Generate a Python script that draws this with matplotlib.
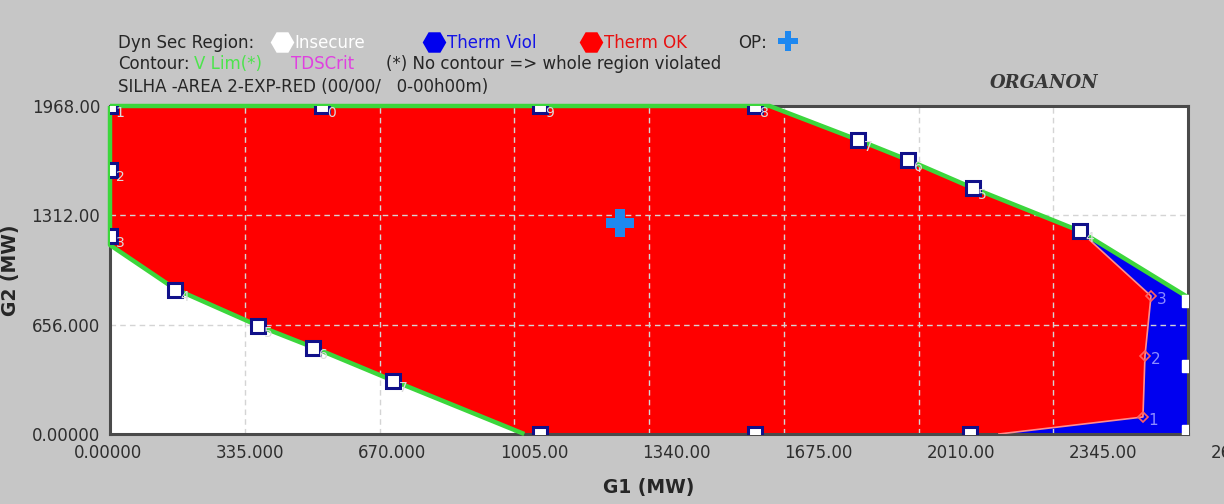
import matplotlib
matplotlib.use("Agg")
import matplotlib.pyplot as plt
from matplotlib.lines import Line2D
from matplotlib.transforms import ScaledTranslation

# ---- data (MW) ----
x_ticks = [0, 335, 670, 1005, 1340, 1675, 2010, 2345, 2680]
y_ticks = [0, 656, 1312, 1968]
x_tick_labels = ["0.00000", "335.000", "670.000", "1005.00", "1340.00",
                 "1675.00", "2010.00", "2345.00", "2680.00"]
y_tick_labels = ["0.00000", "656.000", "1312.00", "1968.00"]

# voltage-limit contour, lower-left part (from left edge down to G2 = 0)
vlim_low_g1 = [0, 162, 368, 505, 704, 1030]
vlim_low_g2 = [1134, 870, 650, 520, 320, 0]
# voltage-limit contour, upper-right part (from G2 max down to G1 max)
vlim_up_g1 = [1640, 1860, 1984, 2145, 2411, 2680]
vlim_up_g2 = [1968, 1764, 1644, 1476, 1218, 820]

# thermal-limit boundary (TDSCrit), from contour down to G2 = 0
therm_g1 = [2411, 2588, 2573, 2568, 2210]
therm_g2 = [1218, 828, 468, 102, 0]
therm_ids = ["", "3", "2", "1", ""]

# simulated boundary points
pts_g1 = [0, 527, 1069, 1603, 0, 0, 162, 368, 505, 704,
          1860, 1984, 2145, 2411, 1069, 1603, 2138]
pts_g2 = [1968, 1968, 1968, 1968, 1584, 1188, 864, 648, 516, 318,
          1764, 1644, 1476, 1218, 0, 0, 0]
pts_ids = ["1", "0", "9", "8", "2", "3", "4", "5", "6", "7",
           "7", "6", "5", "4", "", "", ""]
edge_g1 = [2680, 2680, 2680]
edge_g2 = [798, 408, 18]

# operating point
op_g1, op_g2 = 1268, 1268

G1_MAX, G2_MAX = 2680, 1968

# ---- styling ----
BG = "#c6c6c6"
RED = "#ff0000"
BLUE = "#0000f0"
GREEN = "#3cd63c"
NAVY = "#10108a"
PINK = "#ff8c8c"
TXT = "#262626"
FONT = ["DejaVu Sans"]
plt.rcParams["font.family"] = FONT

fig = plt.figure(figsize=(12.24, 5.04), dpi=100, facecolor=BG)
ax = fig.add_axes([110 / 1224, 1 - 434 / 504, 1078 / 1224, 328 / 504])
ax.set_facecolor("white")
ax.set_xlim(0, G1_MAX)
ax.set_ylim(0, G2_MAX)

# regions
red_x = [0, *vlim_up_g1[:-1], *therm_g1, *vlim_low_g1[::-1]]
red_y = [G2_MAX, *vlim_up_g2[:-1], *therm_g2, *vlim_low_g2[::-1]]
ax.fill(red_x, red_y, color=RED, lw=0, zorder=1)

blue_x = [vlim_up_g1[-2], vlim_up_g1[-1], G1_MAX, *therm_g1[::-1][:-1]]
blue_y = [vlim_up_g2[-2], vlim_up_g2[-1], 0, *therm_g2[::-1][:-1]]
ax.fill(blue_x, blue_y, color=BLUE, lw=0, zorder=1)

# grid
ax.set_axisbelow(False)
ax.grid(True, color="#d4d4d4", linestyle=(0, (4, 3)), linewidth=1.0)

# contours
ax.plot([0, 0, *vlim_low_g1], [G2_MAX, vlim_low_g2[0], *vlim_low_g2],
        color=GREEN, lw=3.2, solid_capstyle="butt", zorder=3, clip_on=False)
ax.plot([0, *vlim_up_g1], [G2_MAX, *vlim_up_g2],
        color=GREEN, lw=3.2, solid_capstyle="butt", zorder=3, clip_on=False)
ax.plot(therm_g1, therm_g2, color=PINK, lw=1.2, zorder=3)
ax.plot(therm_g1[1:4], therm_g2[1:4], linestyle="none", marker="D",
        markersize=5, markerfacecolor="none", markeredgecolor="#ff6060",
        markeredgewidth=1.2, zorder=4)
for gx, gy, s in zip(therm_g1, therm_g2, therm_ids):
    if s:
        ax.annotate(s, (gx, gy), xytext=(4, -6), textcoords="offset points",
                    fontsize=11, color="#8c8cff", zorder=5)

# boundary points
ax.plot(pts_g1, pts_g2, linestyle="none", marker="s", markersize=10,
        markerfacecolor="white", markeredgecolor=NAVY, markeredgewidth=2.2,
        zorder=5)
ax.plot(edge_g1, edge_g2, linestyle="none", marker="s", markersize=9,
        markerfacecolor="white", markeredgecolor="white", zorder=5)
for gx, gy, s in zip(pts_g1, pts_g2, pts_ids):
    if s:
        ax.annotate(s, (gx, gy), xytext=(4, -8), textcoords="offset points",
                    fontsize=10, color="#dcdcdc", zorder=6)

# operating point
ax.plot([op_g1], [op_g2], linestyle="none", marker="P", markersize=20,
        color="#1e88f0", markeredgewidth=0, zorder=6)

# axes cosmetics
for sp in ax.spines.values():
    sp.set_color("#4a4a4a")
    sp.set_linewidth(2.2)
    sp.set_zorder(2.8)
ax.set_xticks(x_ticks)
ax.set_xticklabels(x_tick_labels)
ax.set_yticks(y_ticks)
ax.set_yticklabels(y_tick_labels)
ax.tick_params(length=0, labelsize=12, labelcolor="#2e2e2e")
ax.tick_params(axis="x", pad=7)
ax.tick_params(axis="y", pad=7)
# the x labels are laid out on a slightly wider pitch than the grid
for i, lbl in enumerate(ax.get_xticklabels()):
    dx = -2 + 7.4 * i
    lbl.set_transform(lbl.get_transform()
                      + ScaledTranslation(dx / 100, 0, fig.dpi_scale_trans))
ax.set_xlabel("G1 (MW)", fontsize=13.5, fontweight="bold", color=TXT, labelpad=12)
ax.set_ylabel("G2 (MW)", fontsize=13.5, fontweight="bold", color=TXT, labelpad=8)

# header / legend text
def ftext(x, y, s, color=TXT, **kw):
    fig.text(x / 1224, 1 - y / 504, s, color=color, fontsize=12,
             va="center", ha="left", **kw)

def fmark(x, y, **kw):
    fig.add_artist(Line2D([x / 1224], [1 - y / 504], transform=fig.transFigure,
                          linestyle="none", **kw))

ftext(118, 43, "Dyn Sec Region:")
fmark(282, 42, marker="H", markersize=17, color="white", markeredgewidth=0)
ftext(294, 43, "Insecure", color="white")
fmark(434, 42, marker="H", markersize=17, color="#0000ee", markeredgewidth=0)
ftext(447, 43, "Therm Viol", color="#1414e6")
fmark(591, 42, marker="H", markersize=17, color="#ff0000", markeredgewidth=0)
ftext(604, 43, "Therm OK", color="#e81010")
ftext(738, 43, "OP:")
fmark(788, 41, marker="P", markersize=15, color="#1e88f0", markeredgewidth=0)

ftext(118, 64, "Contour:")
ftext(194, 64, "V Lim(*)", color="#4ce44c")
ftext(291, 64, "TDSCrit", color="#e040e0")
ftext(386, 64, "(*) No contour => whole region violated")
ftext(118, 87, "SILHA -AREA 2-EXP-RED (00/00/   0-00h00m)")

fig.text(1044 / 1224, 1 - 83 / 504, "ORGANON", fontsize=13, style="italic",
         fontweight="bold", family=["DejaVu Serif"], color="#383838",
         ha="center", va="center")

fig.savefig("out.png", dpi=100, facecolor=BG)
